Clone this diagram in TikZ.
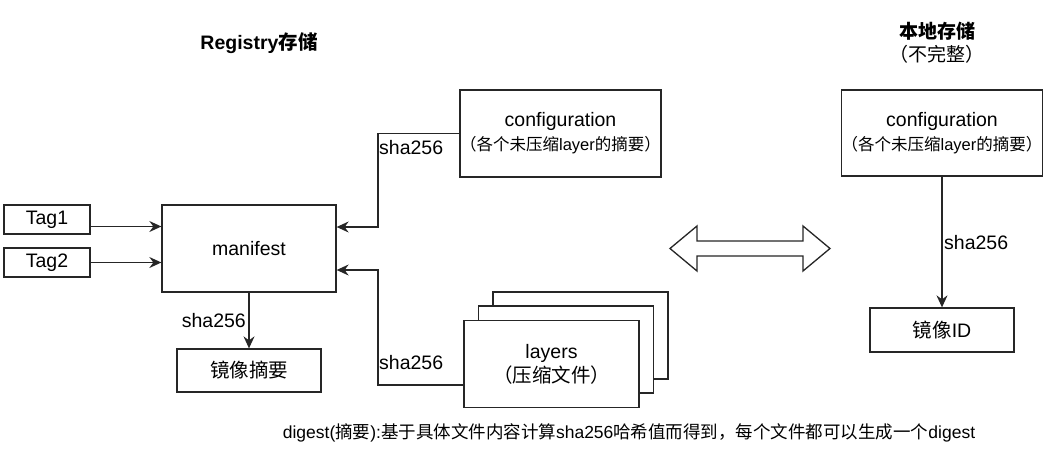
\documentclass[tikz,border=0pt]{standalone}
\usepackage{fontspec}
\setmainfont{Liberation Sans}
\newfontfamily\cjk{Noto Sans CJK SC}
\usetikzlibrary{arrows.meta}
\tikzset{
  box/.style={draw=black!85, line width=1.3pt, fill=white, inner sep=0pt, align=center, font=\fontsize{19.5}{23}\selectfont},
  arr/.style={line width=1.3pt, draw=black!85, -{Stealth[length=12pt,width=11pt,inset=4pt]}},
  lbl/.style={inner sep=0pt, font=\fontsize{19.5}{23}\selectfont},
}
\begin{document}
\begin{tikzpicture}[x=1pt,y=-1pt]
\useasboundingbox (0,0) rectangle (1044,452);
% titles
\node[inner sep=0pt, font=\fontsize{19.5}{23}\selectfont\bfseries] (t1) at (259,43) {Registry{\cjk 存储}};
\node[inner sep=0pt, font=\fontsize{19}{23}\selectfont\bfseries\cjk] (t2) at (937,31) {本地存储};
\node[inner sep=0pt, font=\fontsize{19}{23}\selectfont\cjk] (t3) at (937,54) {（不完整）};
% left side
\node[box, minimum width=86, minimum height=29] (tag1) at (47,219.5) {Tag1};
\node[box, minimum width=86, minimum height=29] (tag2) at (47,262.5) {Tag2};
\node[box, minimum width=174, minimum height=87] (man) at (249,248.5) {manifest};
\node[box, minimum width=144, minimum height=43] (jz) at (249,370.5) {\cjk 镜像摘要};
\node[box, minimum width=191, minimum height=87] (cfg) at (560.5,133.5) {configuration\\[1pt]{\cjk\fontsize{16.5}{20}\selectfont （各个未压缩\fontspec{Liberation Sans}layer\cjk 的摘要）}};
% layers stack
\node[box, minimum width=175, minimum height=87] (lay3) at (580.5,335.5) {};
\node[box, minimum width=175, minimum height=87] (lay2) at (566,349.5) {};
\node[box, minimum width=175, minimum height=87] (lay) at (551.5,364) {layers\\[1pt]{\cjk （压缩文件）}};
% right side
\node[box, minimum width=192, minimum height=86] (cfg2) at (942,133) {configuration\\[1pt]{\cjk\fontsize{16.5}{20}\selectfont （各个未压缩\fontspec{Liberation Sans}layer\cjk 的摘要）}};
\node[box, minimum width=144, minimum height=44] (id) at (942,330) {{\cjk 镜像}ID};
% connectors
\draw[arr] ([yshift=-7pt]tag1.east) -- ([yshift=-7pt]tag1.east -| man.west);
\draw[arr] (tag2.east) -- (tag2.east -| man.west);
\draw[arr] (man.south) -- (jz.north);
\coordinate (c1) at (378,133.5);
\coordinate (c2) at (378,227);
\draw[arr] (cfg.west) -- (c1) -- (c2) -- (c2 -| man.east);
\coordinate (c3) at (378,385);
\coordinate (c4) at (378,270);
\draw[arr] (c3 -| lay.west) -- (c3) -- (c4) -- (c4 -| man.east);
\draw[arr] (cfg2.south) -- (id.north);
% labels
\node[lbl, anchor=east] (s1) at (246,321) {sha256};
\node[lbl, anchor=west] (s2) at (379,148) {sha256};
\node[lbl, anchor=west] (s3) at (379,363) {sha256};
\node[lbl, anchor=west] (s4) at (944,243) {sha256};
% double arrow
\draw[line width=1.3pt, draw=black!85, fill=white] (670,248.5) -- (697,226) -- (697,241) -- (803,241) -- (803,226) -- (830,248.5) -- (803,271) -- (803,256) -- (697,256) -- (697,271) -- cycle;
% note
\node[inner sep=0pt, font=\fontsize{17.5}{21}\selectfont] (note) at (629,433) {digest({\cjk 摘要}):{\cjk 基于具体文件内容计算}sha256{\cjk 哈希值而得到，每个文件都可以生成一个}digest};
\end{tikzpicture}
\end{document}
